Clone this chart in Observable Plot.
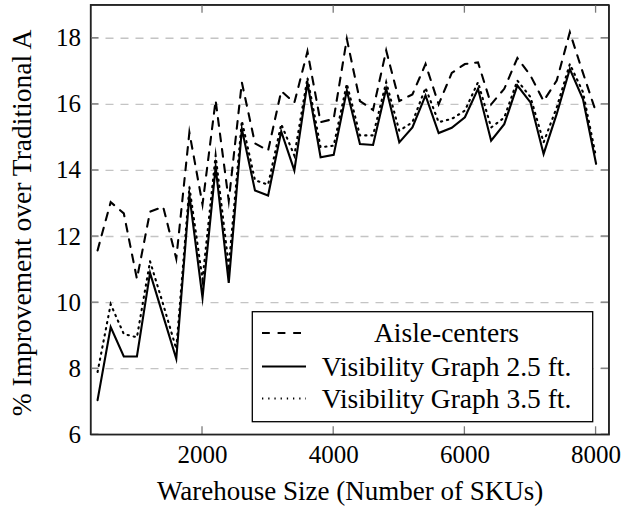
<!DOCTYPE html>
<html><head><meta charset="utf-8">
<script src="https://cdn.jsdelivr.net/npm/d3@7"></script>
<script src="https://cdn.jsdelivr.net/npm/@observablehq/plot@0.6"></script>
<style>body{margin:0;background:#fff} #chart{width:624px;height:507px}</style>
</head><body><div id="chart"></div>
<script>
const sizes = [400,600,800,1000,1200,1400,1600,1800,2000,2200,2400,2600,2800,3000,3200,3400,3600,3800,4000,4200,4400,4600,4800,5000,5200,5400,5600,5800,6000,6200,6400,6600,6800,7000,7200,7400,7600,7800,8000];
const aisle = [11.58,13.04,12.7,10.72,12.75,12.9,11.33,15.15,12.97,16.12,13.08,16.66,14.82,14.6,16.4,16.05,17.6,15.46,15.56,17.98,16.1,15.83,17.63,16.1,16.3,17.22,16.0,16.95,17.22,17.27,16.0,16.47,17.4,16.87,16.1,16.72,18.18,16.95,15.76];
const vg25 = [7.05,9.26,8.37,8.37,10.9,9.6,8.3,13.25,10.15,14.1,10.6,15.25,13.39,13.24,15.18,14.0,16.65,14.4,14.47,16.42,14.8,14.77,16.47,14.85,15.3,16.27,15.13,15.29,15.61,16.47,14.9,15.4,16.57,16.06,14.5,15.71,17.07,16.16,14.2];
const vg35 = [7.9,9.95,9.05,8.95,11.25,9.95,8.6,13.5,10.7,14.45,11.1,15.5,13.7,13.57,15.4,14.45,16.8,14.7,14.75,16.62,15.06,15.06,16.67,15.2,15.46,16.5,15.46,15.56,15.81,16.67,15.3,15.6,16.72,16.22,14.85,15.91,17.22,16.37,14.4];
const xTicks = [2000,4000,6000,8000];
const yTicks = [6,8,10,12,14,16,18];
const seriesNames = ["Aisle-centers","Visibility Graph 2.5 ft.","Visibility Graph 3.5 ft."];
const xLabel = "Warehouse Size (Number of SKUs)";
const yLabel = "% Improvement over Traditional A";

const FONT = "'Liberation Serif', 'DejaVu Serif', serif";
const dashes = ["7.8,7.8", null, "1.3,4.9"];
const series = [aisle, vg25, vg35].map(vals => sizes.map((s,i)=>({x:s, y:vals[i]})));

const plot = Plot.plot({
  width: 624, height: 507,
  marginLeft: 90.5, marginRight: 15.3, marginTop: 4.7, marginBottom: 72.7,
  style: {fontFamily: FONT, fontSize: "25px", background: "#fff", color: "#000"},
  x: {domain: [300, 8200]},
  y: {domain: [6, 19]},
  marks: [
    Plot.gridY(yTicks.filter(t => t > 6), {stroke: "#c4c4c4", strokeOpacity: 1, strokeDasharray: "8,7", strokeWidth: 1.3}),
    Plot.axisX(xTicks, {anchor: "bottom", tickSize: 0, tickPadding: 10.7, label: null, tickFormat: d => String(d), fontSize: 25}),
    Plot.axisY(yTicks, {anchor: "left", tickSize: 0, tickPadding: 10, label: null, fontSize: 25}),
    ...series.map((d, k) => Plot.line(d, {x: "x", y: "y", stroke: "#000", strokeWidth: 2.1, strokeDasharray: dashes[k], strokeLinejoin: "miter", strokeMiterlimit: 10})),
    Plot.frame({stroke: "#222", strokeWidth: 1.3}),
    Plot.text([xLabel], {text: d => d, frameAnchor: "bottom", dy: 56.4, lineAnchor: "middle", fontSize: 27}),
    Plot.text([yLabel], {text: d => d, frameAnchor: "left", dx: -68.5, dy: 3, rotate: -90, lineAnchor: "middle", textAnchor: "middle", fontSize: 27.5})
  ]
});

const sx = plot.scale("x"), sy = plot.scale("y");
const [L, R] = sx.range, [B, T] = sy.range;
const svg = d3.select(plot);
const tg = svg.append("g").attr("stroke", "#7a7a7a").attr("stroke-width", 1.3);
for (const t of xTicks) {
  const px = sx.apply(t);
  tg.append("line").attr("x1", px).attr("x2", px).attr("y1", B).attr("y2", B - 8);
  tg.append("line").attr("x1", px).attr("x2", px).attr("y1", T).attr("y2", T + 8);
}
for (const t of yTicks) {
  const py = sy.apply(t);
  tg.append("line").attr("x1", L).attr("x2", L + 8).attr("y1", py).attr("y2", py);
  tg.append("line").attr("x1", R - 8).attr("x2", R).attr("y1", py).attr("y2", py);
}
svg.append("rect").attr("x", L).attr("y", T).attr("width", R - L).attr("height", B - T)
  .attr("fill", "none").attr("stroke", "#222").attr("stroke-width", 1.3);

// legend
const lg = svg.append("g").attr("font-family", FONT).attr("font-size", 27.5);
lg.append("rect").attr("x", 252.3).attr("y", 311.7).attr("width", 340.4).attr("height", 110)
  .attr("fill", "#fff").attr("stroke", "#000").attr("stroke-width", 1.3);
const rowY = [333, 366.5, 398.5];
seriesNames.forEach((name, k) => {
  const ln = lg.append("line").attr("x1", 262).attr("x2", 306).attr("y1", rowY[k]).attr("y2", rowY[k])
    .attr("stroke", "#000").attr("stroke-width", 2.1);
  if (dashes[k]) ln.attr("stroke-dasharray", dashes[k]);
  lg.append("text").attr("x", 446.5).attr("y", rowY[k]).attr("dy", "0.33em")
    .attr("text-anchor", "middle").attr("fill", "#000").text(name);
});

document.getElementById("chart").appendChild(plot);
</script>
</body></html>
